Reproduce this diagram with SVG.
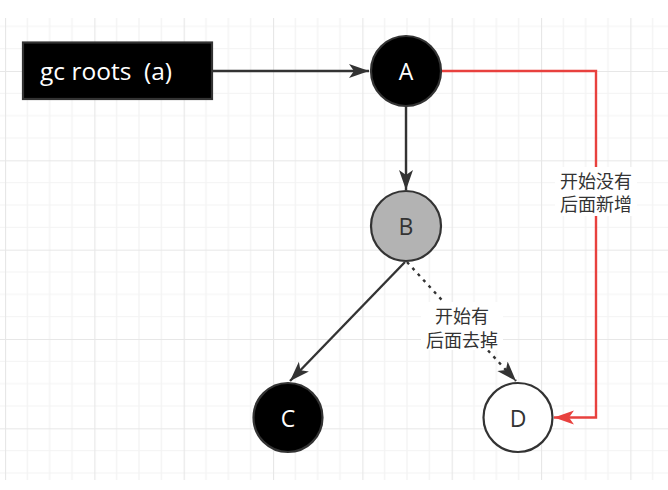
<svg xmlns="http://www.w3.org/2000/svg" width="668" height="490" viewBox="0 0 668 490">
  <style>
    .node { stroke: #333333; stroke-width: 2.2; }
    .lbl { font-family: "Open Sans", "Noto Sans", sans-serif; font-size: 23px; text-anchor: middle; dominant-baseline: central; }
    .cjk { font-family: "Noto Sans CJK SC", "Noto Sans", sans-serif; font-size: 18px; fill: #333333; text-anchor: middle; dominant-baseline: central; }
    .edge { fill: none; stroke: #333333; stroke-width: 2.4; }
  </style>
  <defs>
    <pattern id="grid" patternUnits="userSpaceOnUse" x="5" y="-18.333" width="89.333" height="89.333">
      <rect width="89.333" height="89.333" fill="#ffffff"/>
      <path d="M22.333,0 V89.333 M44.667,0 V89.333 M67,0 V89.333 M0,22.333 H89.333 M0,44.667 H89.333 M0,67 H89.333" stroke="#f3f3f3" stroke-width="1.2" fill="none"/>
      <path d="M0.5,0 V89.333 M0,0.5 H89.333" stroke="#e7e7e7" stroke-width="1.2" fill="none"/>
    </pattern>
    <marker id="arr" markerUnits="userSpaceOnUse" markerWidth="22" markerHeight="16" refX="20" refY="8" orient="auto">
      <path d="M0,1 L20,8 L0,15 L5,8 Z" fill="#333333"/>
    </marker>
    <marker id="arrRed" markerUnits="userSpaceOnUse" markerWidth="22" markerHeight="16" refX="20" refY="8" orient="auto">
      <path d="M0,1 L20,8 L0,15 L5,8 Z" fill="#e8413e"/>
    </marker>
  </defs>

  <rect x="0" y="18" width="668" height="462" fill="url(#grid)"/>

  <g id="connectors">
    <path class="edge" d="M212,71 H369" marker-end="url(#arr)"/>
    <path class="edge" d="M406,106 V190" marker-end="url(#arr)"/>
    <path class="edge" d="M405,262 L290,381" marker-end="url(#arr)"/>
    <path class="edge" d="M407,262 L516,381" stroke-dasharray="3 5" stroke-width="3.2" marker-end="url(#arr)"/>
    <path d="M441,71 H596 V417.5 H554" fill="none" stroke="#e8413e" stroke-width="2.4" marker-end="url(#arrRed)"/>
    <g id="label-red">
      <rect x="555" y="167" width="82" height="49" fill="#ffffff"/>
      <text class="cjk" y="180"><tspan x="596" y="180">开始没有</tspan><tspan x="596" y="203">后面新增</tspan></text>
    </g>
    <g id="label-dotted">
      <rect x="421" y="302" width="82" height="48" fill="#ffffff"/>
      <text class="cjk" y="315"><tspan x="462" y="315">开始有</tspan><tspan x="462" y="338.5">后面去掉</tspan></text>
    </g>
  </g>

  <g id="node-gcroots">
    <rect class="node" x="23" y="42.5" width="189" height="56.5" fill="#000000"/>
    <text x="40" y="70" font-family="Open Sans, Noto Sans, sans-serif" font-size="24.5px" fill="#ffffff" dominant-baseline="central" style="white-space:pre">gc roots  (a)</text>
  </g>
  <g id="node-A">
    <circle class="node" cx="406" cy="71" r="35" fill="#000000"/>
    <text class="lbl" x="406" y="71" fill="#ffffff">A</text>
  </g>
  <g id="node-B">
    <circle class="node" cx="406" cy="226" r="35" fill="#b3b3b3"/>
    <text class="lbl" x="406" y="226" fill="#333333">B</text>
  </g>
  <g id="node-C">
    <circle class="node" cx="288" cy="417.5" r="34.5" fill="#000000"/>
    <text class="lbl" x="288" y="417.5" fill="#ffffff">C</text>
  </g>
  <g id="node-D">
    <circle class="node" cx="518" cy="417.5" r="34.5" fill="#ffffff"/>
    <text class="lbl" x="518" y="417.5" fill="#333333">D</text>
  </g>
</svg>
